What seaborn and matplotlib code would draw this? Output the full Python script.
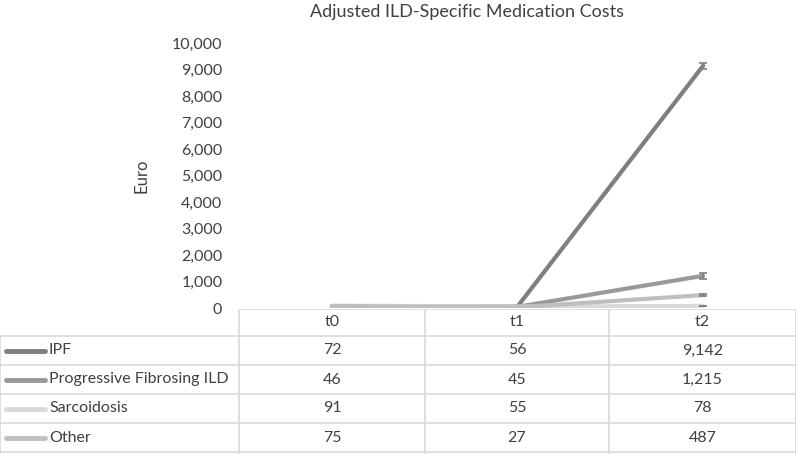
import pandas as pd
import seaborn as sns
import numpy as np
import matplotlib.pyplot as plt

times = ["t0", "t1", "t2"]
groups = ["IPF", "Progressive Fibrosing ILD", "Sarcoidosis", "Other"]
ipf = [72, 56, 9142]
pfild = [46, 45, 1215]
sarc = [91, 55, 78]
other = [75, 27, 487]
err_t2 = [120, 110, 10, 25]   # small error bars at t2 (estimated)
colors = ["#7f7f7f", "#999999", "#d9d9d9", "#bfbfbf"]

series = [ipf, pfild, sarc, other]
rows = []
for g, vals in zip(groups, series):
    for t, v in zip(times, vals):
        rows.append({"Time": t, "Euro": v, "Group": g})
data = pd.DataFrame(rows)

sns.set_style("white")
plt.rcParams["font.family"] = ["Lato", "DejaVu Sans"]

W, H = 796, 454
fig = plt.figure(figsize=(W / 100, H / 100), dpi=100)

# main plot area, columns aligned with the table below
x0, x1 = 239, 796
ax = fig.add_axes([x0 / W, (H - 308) / H, (x1 - x0) / W, (308 - 43) / H])
sns.lineplot(data=data, x="Time", y="Euro", hue="Group", hue_order=groups,
             palette=colors, linewidth=3, legend=False, ax=ax, zorder=3)
for g, vals, e, c in zip(groups, series, err_t2, colors):
    ax.errorbar(2, vals[2], yerr=e, color="#808080", capsize=3,
                elinewidth=1.2, capthick=1.2, fmt="none", zorder=4)
ax.set_xlim(-0.5, 2.5)
ax.set_ylim(0, 10000)
ax.set_yticks(np.arange(0, 10001, 1000))
ax.set_yticklabels([f"{v:,}" for v in range(0, 10001, 1000)], fontsize=11.5, color="#404040")
ax.set_xticks([])
ax.set_xlabel("")
ax.set_ylabel("Euro", fontsize=12, color="#404040")
ax.yaxis.set_label_coords(-(x0 - 150) / (x1 - x0), 0.5)
ax.tick_params(axis="y", length=0, pad=12)
for s in ax.spines.values():
    s.set_visible(False)
ax.patch.set_alpha(0)

fig.text(467 / W, 1 - 12 / H, "Adjusted ILD-Specific Medication Costs",
         ha="center", va="center", fontsize=13, color="#404040")

# data table under the chart
tab = fig.add_axes([0, 0, 1, (H - 309) / H])
tab.set_xlim(0, W)
tab.set_ylim(454, 309)
tab.axis("off")
edges = [0, 239, 425, 609, 796]
top = 309
head_h = 27
row_h = 29
lc = "#d9d9d9"
# header
tab.plot([edges[1], W], [top, top], color=lc, lw=1.2)
for i, t in enumerate(times):
    cx = (edges[i + 1] + edges[i + 2]) / 2
    tab.text(cx, top + head_h / 2, t, ha="center", va="center", fontsize=11.5, color="#404040")
for r in range(len(groups) + 1):
    y = top + head_h + row_h * r
    tab.plot([0, W], [y, y], color=lc, lw=1.2)
for k, xe in enumerate(edges):
    ystart = top if k > 0 else top + head_h
    tab.plot([xe, xe], [ystart, H], color=lc, lw=1.2)
for r, (g, vals, c) in enumerate(zip(groups, series, colors)):
    cy = top + head_h + row_h * r + row_h / 2
    tab.plot([6, 45], [cy, cy], color=c, lw=3.5, solid_capstyle="round")
    tab.text(49, cy, g, ha="left", va="center", fontsize=11.5, color="#404040")
    for i, v in enumerate(vals):
        cx = (edges[i + 1] + edges[i + 2]) / 2
        tab.text(cx, cy, f"{v:,}", ha="center", va="center", fontsize=11.5, color="#404040")

fig.savefig("out.png", dpi=100)
